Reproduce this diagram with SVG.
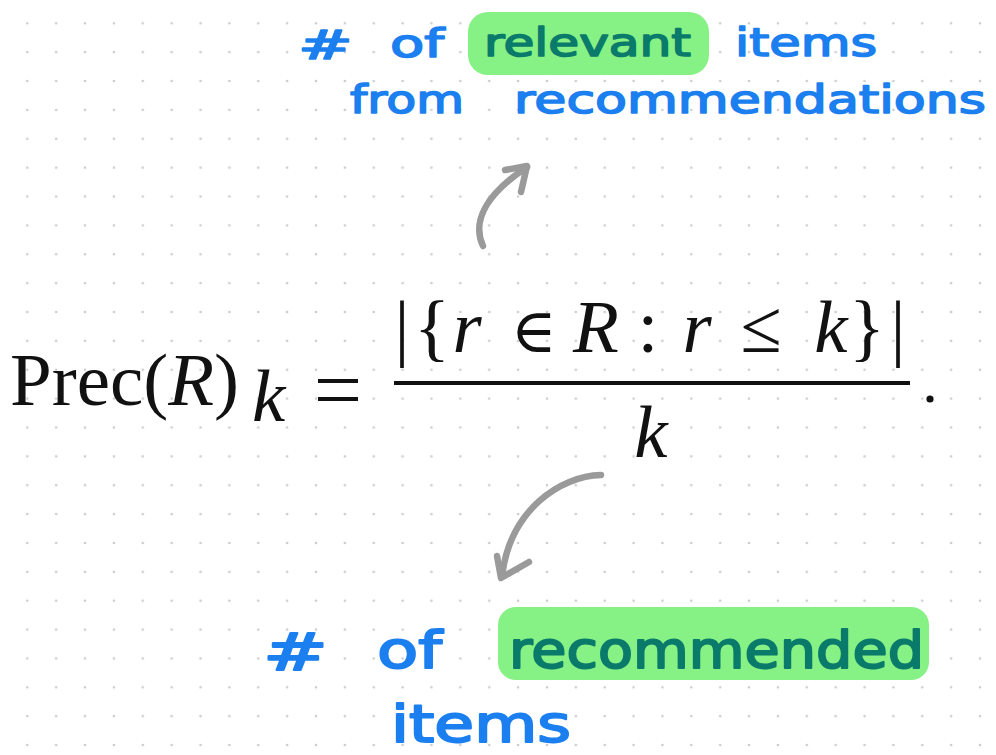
<svg xmlns="http://www.w3.org/2000/svg" width="996" height="755" viewBox="0 0 996 755">
<defs>
<pattern id="dots" x="27.3" y="23.3" width="28.87" height="28.87" patternUnits="userSpaceOnUse">
<circle cx="0" cy="0" r="1.3" fill="#cccccc"/>
<circle cx="28.87" cy="0" r="1.3" fill="#cccccc"/>
<circle cx="0" cy="28.87" r="1.3" fill="#cccccc"/>
<circle cx="28.87" cy="28.87" r="1.3" fill="#cccccc"/>
</pattern>
<style>
.math{font-family:"Liberation Serif","DejaVu Serif",serif;fill:#111;font-size:75px}
.it{font-style:italic}
.hand{font-family:"DejaVu Sans",sans-serif;fill:#1b7fef;stroke:#1b7fef;stroke-linejoin:round;stroke-linecap:round}
.hl{fill:#86f184}
.teal{fill:#0a7a6a;stroke:#0a7a6a}
.top{font-size:39px;stroke-width:1.6px}
.bot{font-size:52px;stroke-width:2px}
.arrow{fill:none;stroke:#9a9a9a;stroke-width:6.5;stroke-linecap:round;stroke-linejoin:round}
</style>
</defs>
<rect width="996" height="755" fill="#ffffff"/>
<rect width="996" height="755" fill="url(#dots)"/>

<g id="formula">
<text class="math" x="10" y="405">Prec(<tspan class="it">R</tspan>)</text>
<text class="math it" x="252" y="421" font-size="49">k</text>
<rect x="318" y="379" width="40" height="4" fill="#111"/>
<rect x="318" y="397" width="40" height="4" fill="#111"/>
<text class="math" y="352" text-anchor="middle"><tspan x="402">|</tspan><tspan x="432">{</tspan><tspan x="467" class="it">r</tspan><tspan x="534" font-size="62">∈</tspan><tspan x="596" class="it">R</tspan><tspan x="648">:</tspan><tspan x="697" class="it">r</tspan><tspan x="761">≤</tspan><tspan x="831" class="it">k</tspan><tspan x="867">}</tspan><tspan x="898">|</tspan></text>
<rect x="394" y="381" width="516" height="4" fill="#111"/>
<text class="math it" x="651" y="457" text-anchor="middle">k</text>
<circle cx="930" cy="399" r="3.6" fill="#111"/>
</g>

<g id="label-top">
<rect class="hl" x="468" y="12" width="241" height="63" rx="20"/>
<text class="hand top" x="298" y="59" font-size="46" textLength="55" lengthAdjust="spacingAndGlyphs">#</text>
<text class="hand top" x="390" y="57" textLength="54" lengthAdjust="spacingAndGlyphs">of</text>
<text class="hand top teal" x="484" y="56" textLength="207" lengthAdjust="spacingAndGlyphs">relevant</text>
<text class="hand top" x="735" y="56" textLength="142" lengthAdjust="spacingAndGlyphs">items</text>
<text class="hand top" x="350" y="113" textLength="114" lengthAdjust="spacingAndGlyphs">from</text>
<text class="hand top" x="514" y="113" textLength="472" lengthAdjust="spacingAndGlyphs">recommendations</text>
</g>

<g id="label-bottom">
<rect class="hl" x="498" y="607" width="431" height="73" rx="18"/>
<text class="hand bot" x="263" y="670" textLength="65" lengthAdjust="spacingAndGlyphs">#</text>
<text class="hand bot" x="377" y="668" textLength="65" lengthAdjust="spacingAndGlyphs">of</text>
<text class="hand bot teal" x="509" y="668" textLength="415" lengthAdjust="spacingAndGlyphs">recommended</text>
<text class="hand bot" x="391" y="742" textLength="180" lengthAdjust="spacingAndGlyphs">items</text>
</g>

<g id="connectors">
<path class="arrow" d="M483,246 C472,222 485,195 527,167"/>
<path class="arrow" d="M505,170 L527,166 L521,192"/>
<path class="arrow" d="M601,475 C560,476 510,510 502,576"/>
<path class="arrow" d="M497,556 L501,578 L529,562"/>
</g>
</svg>
